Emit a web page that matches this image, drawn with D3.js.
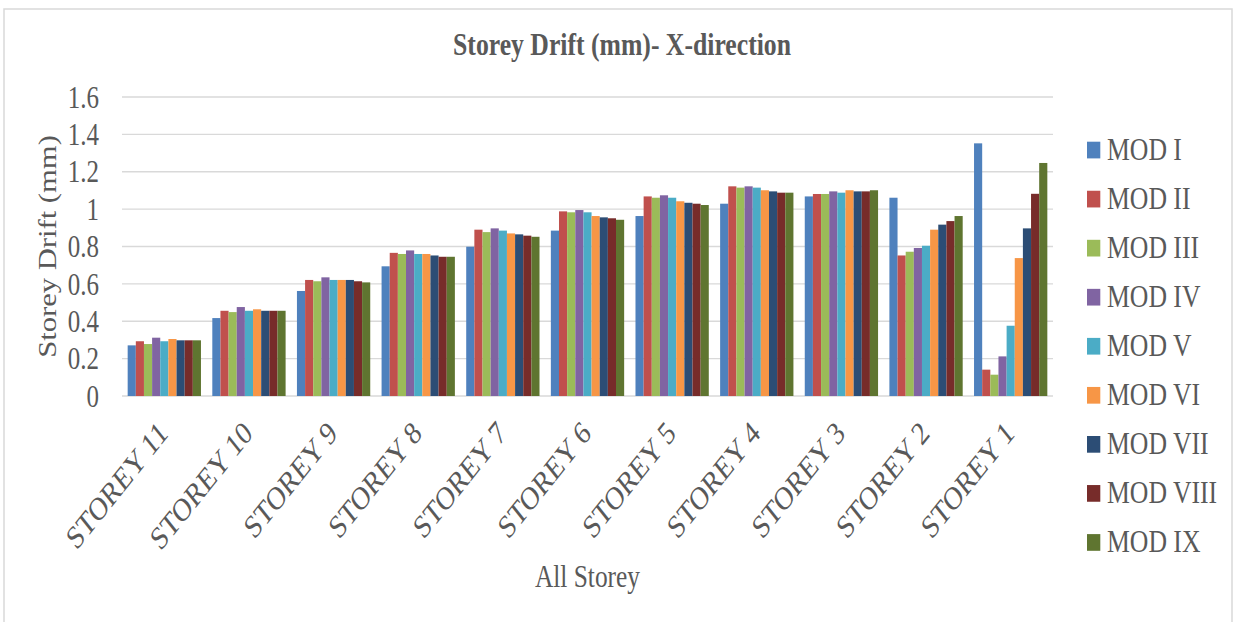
<!DOCTYPE html>
<html>
<head>
<meta charset="utf-8">
<script src="https://cdn.jsdelivr.net/npm/d3@7"></script>
<style>
body { margin: 0; background: #fff; }
text { font-family: "Liberation Serif", "Times New Roman", serif; fill: #595959; }
</style>
</head>
<body>
<svg width="1235" height="622"></svg>
<script>
// data, storeys left to right
categories = ["STOREY 11", "STOREY 10", "STOREY 9", "STOREY 8", "STOREY 7", "STOREY 6",
              "STOREY 5", "STOREY 4", "STOREY 3", "STOREY 2", "STOREY 1"];
seriesNames = ["MOD I", "MOD II", "MOD III", "MOD IV", "MOD V", "MOD VI", "MOD VII", "MOD VIII", "MOD IX"];

modI    = [0.271, 0.417, 0.562, 0.694, 0.799, 0.885, 0.963, 1.029, 1.068, 1.061, 1.352];
modII   = [0.293, 0.456, 0.621, 0.766, 0.890, 0.988, 1.068, 1.122, 1.081, 0.752, 0.141];
modIII  = [0.278, 0.449, 0.614, 0.760, 0.877, 0.983, 1.061, 1.115, 1.081, 0.772, 0.114];
modIV   = [0.312, 0.476, 0.635, 0.779, 0.897, 0.995, 1.074, 1.122, 1.095, 0.792, 0.212];
modV    = [0.293, 0.456, 0.621, 0.760, 0.885, 0.983, 1.061, 1.115, 1.088, 0.804, 0.376];
modVI   = [0.305, 0.464, 0.621, 0.760, 0.870, 0.963, 1.042, 1.101, 1.101, 0.890, 0.738];
modVII  = [0.298, 0.456, 0.621, 0.752, 0.865, 0.956, 1.034, 1.095, 1.095, 0.917, 0.897];
modVIII = [0.298, 0.456, 0.614, 0.745, 0.858, 0.951, 1.029, 1.088, 1.095, 0.936, 1.082];
modIX   = [0.298, 0.456, 0.608, 0.745, 0.852, 0.943, 1.022, 1.088, 1.101, 0.963, 1.247];

yTicks = [0, 0.2, 0.4, 0.6, 0.8, 1, 1.2, 1.4, 1.6];
yTickLabels = ["0", "0.2", "0.4", "0.6", "0.8", "1", "1.2", "1.4", "1.6"];

colors = ["#4F81BD", "#C0504D", "#9BBB59", "#8064A2", "#4BACC6", "#F79646", "#2C4D75", "#772C2A", "#5F7530"];
allSeries = [modI, modII, modIII, modIV, modV, modVI, modVII, modVIII, modIX];

// the picture is stretched vertically, text gets the same stretch
stretch = 1.25;

svg = d3.select("svg");
plotLeft = 122; plotRight = 1053; plotTop = 97; plotBottom = 396;

svg.append("rect")
	.attr("x", 4).attr("y", 9)
	.attr("width", 1228).attr("height", 640)
	.attr("fill", "#fff")
	.attr("stroke", "#D9D9D9")
	.attr("stroke-width", 1.5)
;

y = d3.scaleLinear().domain([0, 1.6]).range([plotBottom, plotTop]);
x0 = d3.scaleBand().domain(categories).range([plotLeft, plotRight]).paddingInner(0.134).paddingOuter(0.067);
x1 = d3.scaleBand().domain(seriesNames).range([0, x0.bandwidth()]);

grid = svg.append("g").attr("class", "grid");
yTicks.forEach(function(t) {
	grid.append("line")
		.attr("x1", plotLeft).attr("x2", plotRight)
		.attr("y1", y(t)).attr("y2", y(t))
		.attr("stroke", "#D9D9D9")
		.attr("stroke-width", 1.3)
	;
});

yLabels = svg.append("g").attr("class", "asisY");
yTicks.forEach(function(t, i) {
	yLabels.append("text")
		.attr("transform", "translate(" + [99, y(t)] + ") scale(1," + stretch + ")")
		.attr("text-anchor", "end")
		.attr("dy", "0.34em")
		.style("font-size", "25px")
		.text(yTickLabels[i])
	;
});

bars = svg.append("g").attr("class", "bars");
allSeries.forEach(function(vals, s) {
	vals.forEach(function(v, i) {
		bars.append("rect")
			.attr("x", x0(categories[i]) + x1(seriesNames[s]))
			.attr("y", y(v))
			.attr("width", x1.bandwidth())
			.attr("height", y(0) - y(v))
			.attr("fill", colors[s])
		;
	});
});

xLabels = svg.append("g").attr("class", "asisX");
categories.forEach(function(c) {
	cx = x0(c) + x0.bandwidth() / 2;
	xLabels.append("text")
		.attr("transform", "translate(" + [cx + 5, 435] + ") scale(1," + stretch + ") rotate(-45)")
		.attr("text-anchor", "end")
		.style("font-size", "26px")
		.text(c)
	;
});

svg.append("text")
	.attr("transform", "translate(" + [622, 55] + ") scale(1," + stretch + ")")
	.attr("text-anchor", "middle")
	.style("font-size", "25.7px")
	.style("font-weight", "bold")
	.text("Storey Drift (mm)- X-direction")
;

svg.append("text")
	.attr("transform", "translate(" + [56, (plotTop + plotBottom) / 2] + ") scale(1," + stretch + ") rotate(-90)")
	.attr("text-anchor", "middle")
	.style("font-size", "24.5px")
	.text("Storey Drift (mm)")
;

svg.append("text")
	.attr("transform", "translate(" + [(plotLeft + plotRight) / 2, 587] + ") scale(1," + stretch + ")")
	.attr("text-anchor", "middle")
	.style("font-size", "25.4px")
	.text("All Storey")
;

legend = svg.append("g").attr("class", "legend");
seriesNames.forEach(function(n, i) {
	ly = 150 + i * 49.05;
	legend.append("rect")
		.attr("x", 1087).attr("y", ly - 8.3)
		.attr("width", 13.3).attr("height", 16.7)
		.attr("fill", colors[i])
	;
	legend.append("text")
		.attr("transform", "translate(" + [1107, ly + 10] + ") scale(1," + stretch + ")")
		.style("font-size", "25.7px")
		.text(n)
	;
});
</script>
</body>
</html>
